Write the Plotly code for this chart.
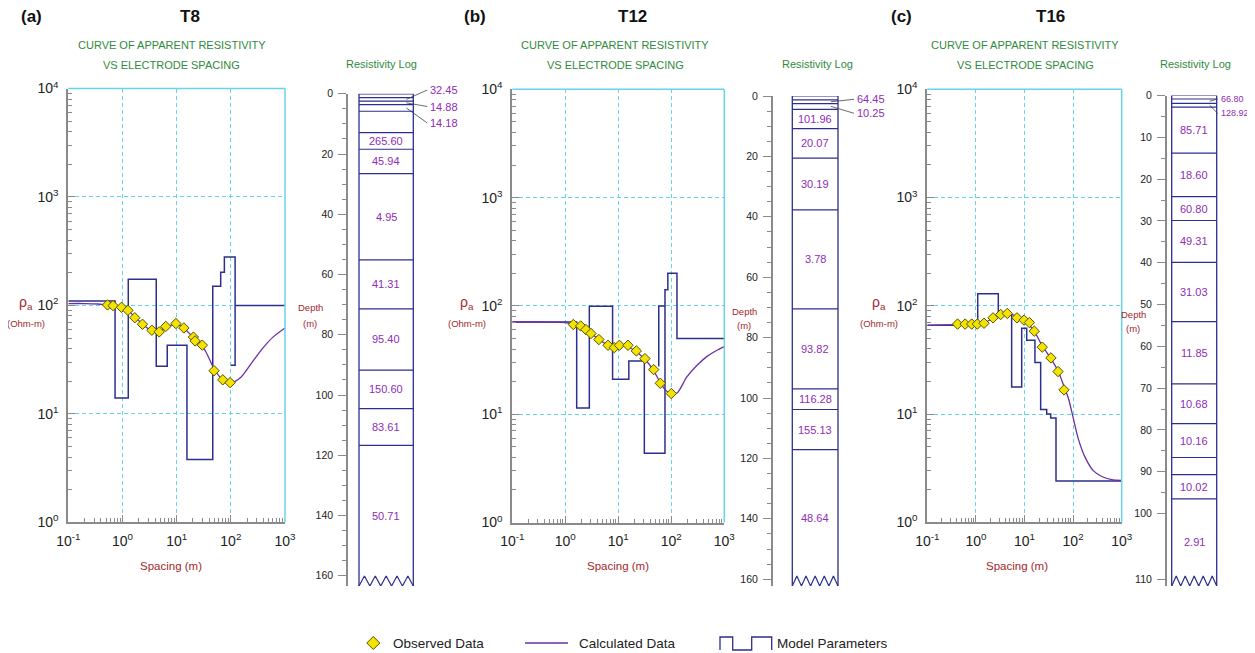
import plotly.graph_objects as go

W, H = 1255, 653
OFF = 8                      # default page margin of the browser body
FW, FH = W - OFF, H - OFF    # figure size
FONT = "Arial, 'Liberation Sans', Helvetica, sans-serif"
GRAY = "#8a8a8a"
CYAN = "#66d4ea"
NAVY = "#2c2f8c"
PURPLE_LINE = "#6b2fa3"
PURPLE_TXT = "#8e2cb6"
GREEN = "#2f8a3c"
DARKRED = "#a2282c"
YELLOW = "#f2e400"

# ---------------- data ----------------
spacing_ticks = [0.1, 1, 10, 100, 1000]
spacing_tick_text = ["10<sup>-1</sup>", "10<sup>0</sup>", "10<sup>1</sup>", "10<sup>2</sup>", "10<sup>3</sup>"]
rho_ticks = [1, 10, 100, 1000, 10000]
rho_tick_text = ["10<sup>0</sup>", "10<sup>1</sup>", "10<sup>2</sup>", "10<sup>3</sup>", "10<sup>4</sup>"]

# T8
t8_obs_x = [0.53, 0.67, 0.96, 1.26, 1.69, 2.34, 3.49, 4.76, 6.3, 9.7, 13.6, 20.4, 21.9, 29.8, 49, 71, 97]
t8_obs_y = [101, 99.5, 96, 90, 77, 67, 59, 57, 64, 68, 62, 51, 47, 43, 25, 20.6, 19.4]
t8_calc_x = [0.1, 0.2, 0.35, 0.5, 0.7, 1.0, 1.3, 1.7, 2.3, 3.0, 4.0, 5.0, 6.5, 9.0, 12, 15, 20, 27, 35, 50, 70, 100, 150, 260, 400, 600, 1000]
t8_calc_y = [104, 104, 103, 101, 99, 95, 89, 78, 68, 61, 58, 58, 63, 66.5, 65, 59, 51, 45, 37, 25.5, 20.8, 19.3, 21.5, 31, 41, 51, 62]
t8_model_x = [0.1, 0.73, 0.73, 1.28, 1.28, 4.2, 4.2, 6.7, 6.7, 15.5, 15.5, 46.4, 46.4, 65, 65, 76, 76, 120, 120, 100, None, 120, 1000]
t8_model_y = [110, 110, 14, 14, 174, 174, 27.5, 27.5, 43, 43, 3.8, 3.8, 150, 150, 202, 202, 280, 280, 28, 28, None, 100, 100]
t8_layer_top = [0, 1.3, 2.4, 3.6, 5.8, 12.9, 18.4, 26.5, 55.1, 71.4, 91.7, 104.5, 116.7]
t8_layer_res = ["", "32.45", "14.88", "14.18", "", "265.60", "45.94", "4.95", "41.31", "95.40", "150.60", "83.61", "50.71"]
t8_layer_ext = [0, 1, 1, 1, 0, 0, 0, 0, 0, 0, 0, 0, 0]

# T12
t12_obs_x = [1.42, 1.95, 2.45, 3.05, 4.3, 6.4, 8.4, 10.5, 15.2, 21.9, 31.8, 46.5, 62, 100]
t12_obs_y = [67.3, 65.3, 60.4, 55.6, 48.9, 43.3, 41.2, 43.3, 43.3, 38.4, 32.6, 25.8, 19.3, 15.5]
t12_calc_x = [0.1, 0.3, 0.7, 1.0, 1.4, 2.0, 3.0, 4.3, 6.4, 8.4, 10.5, 14, 20, 30, 45, 62, 80, 100, 130, 195, 300, 466, 700, 1000]
t12_calc_y = [71, 71, 70.5, 70, 67.5, 64, 56, 49, 43.5, 42, 42.5, 42.5, 39, 33, 26, 19.5, 16.5, 15.3, 15.8, 22, 28, 34, 38.5, 42]
t12_model_x = [0.1, 1.64, 1.64, 2.84, 2.84, 7.8, 7.8, 15.8, 15.8, 31, 31, 76, 76, 86, 86, 128, 128, 1000, None, 58, 58, 76]
t12_model_y = [71, 71, 11.4, 11.4, 99, 99, 21, 21, 31, 31, 4.36, 4.36, 141, 141, 200, 200, 50, 50, None, 27.6, 100, 100]
t12_layer_top = [0, 1.3, 2.5, 4.4, 10.8, 20.6, 37.7, 70.5, 97, 103.8, 117.1]
t12_layer_res = ["", "64.45", "10.25", "101.96", "20.07", "30.19", "3.78", "93.82", "116.28", "155.13", "48.64"]
t12_layer_ext = [0, 1, 1, 0, 0, 0, 0, 0, 0, 0, 0]

# T16
t16_obs_x = [0.42, 0.60, 0.82, 1.07, 1.47, 2.25, 3.23, 4.43, 7.0, 9.8, 12.6, 15.9, 23.2, 35, 49, 65]
t16_obs_y = [67.8, 67.8, 67.8, 67.8, 69, 77.4, 83, 85, 77.4, 73.7, 70, 58.3, 41.5, 33, 24.7, 16.7]
t16_calc_x = [0.1, 0.4, 1.0, 1.5, 2.2, 3.2, 4.5, 6, 8, 10, 13, 16, 23, 35, 50, 65, 80, 100, 128, 176, 260, 390, 620, 1000]
t16_calc_y = [66, 67, 68, 70, 76, 82, 84.5, 82, 77, 72, 65, 58, 43, 32.5, 24.5, 18, 14, 9.3, 5.9, 4.0, 3.0, 2.65, 2.48, 2.44]
t16_model_x = [0.1, 1.09, 1.09, 2.89, 2.89, 5.44, 5.44, 8.75, 8.75, 11.1, 11.1, 16.4, 16.4, 21.5, 21.5, 28.6, 28.6, 34.6, 34.6, 44.5, 44.5, 1000]
t16_model_y = [66, 66, 129, 129, 82, 82, 17.8, 17.8, 62, 62, 48, 48, 30, 30, 11, 11, 10, 10, 9.2, 9.2, 2.41, 2.41]
t16_layer_top = [0, 0.84, 1.9, 2.8, 13.8, 24.2, 29.9, 39.9, 54.1, 69.0, 78.5, 86.6, 90.7, 96.5]
t16_layer_res = ["", "66.80", "128.92", "85.71", "18.60", "60.80", "49.31", "31.03", "11.85", "10.68", "10.16", "", "10.02", "2.91"]
t16_layer_ext = [0, 1, 1, 0, 0, 0, 0, 0, 0, 0, 0, 0, 0, 0]

soundings = [
    dict(tag="(a)", name="T8", ox=t8_obs_x, oy=t8_obs_y, cx=t8_calc_x, cy=t8_calc_y,
         mx=t8_model_x, my=t8_model_y, top=t8_layer_top, res=t8_layer_res, ext=t8_layer_ext),
    dict(tag="(b)", name="T12", ox=t12_obs_x, oy=t12_obs_y, cx=t12_calc_x, cy=t12_calc_y,
         mx=t12_model_x, my=t12_model_y, top=t12_layer_top, res=t12_layer_res, ext=t12_layer_ext),
    dict(tag="(c)", name="T16", ox=t16_obs_x, oy=t16_obs_y, cx=t16_calc_x, cy=t16_calc_y,
         mx=t16_model_x, my=t16_model_y, top=t16_layer_top, res=t16_layer_res, ext=t16_layer_ext),
]

# ---------------- layout (pixel positions in the window) ----------------
cfgs = [
    dict(cxr=(68.3, 285), cyr=(88.5, 522.3), lx=348, box=(359, 413.3), y0=93.8, ppm=3.0125,
         dstep=20, dlast=160, end_label=None, ext_x=15, ext_start=-3.8, ext_gap=16.5, ext_size=11,
         tag_x=31, title_x=190, green_x=171.7, rlog_x=381.7, rho_x=26, depth_x=310, depth_y=(308, 323),
         spacing_x=170.7),
    dict(cxr=(512.3, 724.3), cyr=(89.3, 522.5), lx=772.7, box=(792.3, 838), y0=96, ppm=3.02,
         dstep=20, dlast=160, end_label=None, ext_x=17, ext_start=3.3, ext_gap=14, ext_size=11,
         tag_x=475, title_x=632, green_x=615, rlog_x=817, rho_x=467, depth_x=744, depth_y=(311, 325),
         spacing_x=618),
    dict(cxr=(927.3, 1121.7), cyr=(89.3, 522.3), lx=1166.7, box=(1171.7, 1216.7), y0=95.5, ppm=4.18,
         dstep=10, dlast=100, end_label=("110", 579.3), ext_x=2, ext_start=3.5, ext_gap=14.3, ext_size=9,
         tag_x=901, title_x=1050, green_x=1025, rlog_x=1195, rho_x=879, depth_x=1133, depth_y=(314, 329),
         spacing_x=1016.7),
]
BOTTOM = 586
SPAN = 80


def PX(x):
    return (x - OFF) / FW


def PY(y):
    return 1 - (y - OFF) / FH


fig = go.Figure()
layout = {}
shapes = []
anns = []


def an(n):
    return "" if n == 1 else str(n)


def ann(text, x, y, size, color, bold=False, xanchor="center"):
    anns.append(dict(text=f"<b>{text}</b>" if bold else text, x=PX(x), y=PY(y),
                     xref="paper", yref="paper", showarrow=False, xanchor=xanchor, yanchor="middle",
                     font=dict(family=FONT, size=size, color=color)))


minor_x = [m * 10 ** e for e in range(-1, 3) for m in range(2, 10)]
minor_y = [m * 10 ** e for e in range(0, 4) for m in range(2, 10)]

for i, (S, L) in enumerate(zip(soundings, cfgs)):
    m, g = 2 * i + 1, 2 * i + 2
    xm, ym, xg, yg = "x" + an(m), "y" + an(m), "x" + an(g), "y" + an(g)

    # ---- main apparent-resistivity chart ----
    layout["xaxis" + an(m)] = dict(
        type="log", range=[-1, 3], domain=[PX(L["cxr"][0]), PX(L["cxr"][1])], anchor=ym,
        automargin=False,
        tickmode="array", tickvals=spacing_ticks, ticktext=spacing_tick_text,
        ticks="inside", ticklen=7, tickcolor=GRAY, tickwidth=1, ticklabelstandoff=5,
        showline=True, linecolor=GRAY, linewidth=2, zeroline=False,
        showgrid=True, gridcolor=CYAN, griddash="4px,3px", gridwidth=1,
        minor=dict(tickmode="array", tickvals=minor_x, ticks="inside", ticklen=4,
                   tickcolor=GRAY, showgrid=False),
        tickfont=dict(family=FONT, size=14, color="#222"), fixedrange=True)
    layout["yaxis" + an(m)] = dict(
        type="log", range=[0, 4], domain=[PY(L["cyr"][1]), PY(L["cyr"][0])], anchor=xm,
        automargin=False,
        tickmode="array", tickvals=rho_ticks, ticktext=rho_tick_text,
        ticks="inside", ticklen=7, tickcolor=GRAY, tickwidth=1, ticklabelstandoff=5,
        showline=True, linecolor=GRAY, linewidth=2, zeroline=False,
        showgrid=True, gridcolor=CYAN, griddash="4px,3px", gridwidth=1,
        minor=dict(tickmode="array", tickvals=minor_y, ticks="inside", ticklen=4,
                   tickcolor=GRAY, showgrid=False),
        tickfont=dict(family=FONT, size=14, color="#222"), fixedrange=True)
    shapes.append(dict(type="line", xref=xm + " domain", yref=ym + " domain", x0=0, x1=1, y0=1, y1=1,
                       line=dict(color=CYAN, width=1.5)))
    shapes.append(dict(type="line", xref=xm + " domain", yref=ym + " domain", x0=1, x1=1, y0=0, y1=1,
                       line=dict(color=CYAN, width=1.5)))

    fig.add_trace(go.Scatter(x=S["mx"], y=S["my"], mode="lines", xaxis=xm, yaxis=ym,
                             line=dict(color=NAVY, width=1.5), connectgaps=False, hoverinfo="skip"))
    fig.add_trace(go.Scatter(x=S["cx"], y=S["cy"], mode="lines", xaxis=xm, yaxis=ym,
                             line=dict(color=PURPLE_LINE, width=1.3, shape="spline", smoothing=0.8),
                             hoverinfo="skip"))
    fig.add_trace(go.Scatter(x=S["ox"], y=S["oy"], mode="markers", xaxis=xm, yaxis=ym,
                             marker=dict(symbol="diamond", size=8, color=YELLOW,
                                         line=dict(color="#5a5200", width=1)), hoverinfo="skip"))

    # ---- resistivity log column ----
    dmax = (BOTTOM - L["y0"]) / L["ppm"]
    ticks = list(range(0, L["dlast"] + 1, L["dstep"]))
    ticktext = [str(t) for t in ticks]
    if L["end_label"]:
        ticks.append((L["end_label"][1] - L["y0"]) / L["ppm"])
        ticktext.append(L["end_label"][0])
    minor_d = [d for d in range(5, L["dlast"], 5) if d % L["dstep"]]
    layout["xaxis" + an(g)] = dict(range=[0, SPAN], domain=[PX(L["lx"]), PX(L["lx"] + SPAN)],
                                   anchor=yg, visible=False, fixedrange=True, automargin=False)
    layout["yaxis" + an(g)] = dict(
        range=[dmax, 0], domain=[PY(BOTTOM), PY(L["y0"])], anchor=xg, automargin=False,
        tickmode="array", tickvals=ticks, ticktext=ticktext,
        ticks="outside", ticklen=8, tickcolor=GRAY, ticklabelstandoff=3,
        showline=True, linecolor=GRAY, linewidth=1.5, showgrid=False, zeroline=False,
        minor=dict(tickmode="array", tickvals=minor_d, ticks="outside", ticklen=4, tickcolor=GRAY),
        tickfont=dict(family=FONT, size=10.5, color="#222"), fixedrange=True)

    bl, br = L["box"][0] - L["lx"], L["box"][1] - L["lx"]
    for xx in (bl, br):
        shapes.append(dict(type="line", xref=xg, yref=yg, x0=xx, x1=xx, y0=0, y1=dmax,
                           line=dict(color=NAVY, width=1.3)))
    tops = S["top"]
    bots = tops[1:] + [dmax]
    k = 0
    for t, b, r, e in zip(tops, bots, S["res"], S["ext"]):
        shapes.append(dict(type="line", xref=xg, yref=yg, x0=bl, x1=br, y0=t, y1=t,
                           line=dict(color=NAVY, width=1.2)))
        if not r:
            continue
        mid = (t + b) / 2
        if e:
            # external label with leader line, placed in paper coordinates
            label_py = L["y0"] + L["ext_start"] + k * L["ext_gap"]
            mid_py = L["y0"] + mid * L["ppm"]
            shapes.append(dict(type="line", xref="paper", yref="paper",
                               x0=PX(L["box"][1] - 7), x1=PX(L["box"][1] + L["ext_x"] - 1),
                               y0=PY(mid_py), y1=PY(label_py),
                               line=dict(color="#444", width=0.8)))
            ann(r, L["box"][1] + L["ext_x"], label_py, L["ext_size"], PURPLE_TXT, xanchor="left")
            k += 1
        else:
            anns.append(dict(text=r, x=(bl + br) / 2, y=mid, xref=xg, yref=yg, showarrow=False,
                             xanchor="center", yanchor="middle",
                             font=dict(family=FONT, size=11, color=PURPLE_TXT)))
    # zig-zag open bottom
    zz_x = [bl + j * (br - bl) / 10 for j in range(11)]
    zz_y = [dmax if j % 2 == 0 else dmax - 10 / L["ppm"] for j in range(11)]
    fig.add_trace(go.Scatter(x=zz_x, y=zz_y, mode="lines", xaxis=xg, yaxis=yg,
                             line=dict(color=NAVY, width=1.2), hoverinfo="skip", cliponaxis=False))

    # ---- texts ----
    ann(S["tag"], L["tag_x"], 16, 17, "#111", bold=True)
    ann(S["name"], L["title_x"], 16, 17, "#111", bold=True)
    ann("CURVE OF APPARENT RESISTIVITY", L["green_x"], 45, 11, GREEN)
    ann("VS ELECTRODE SPACING", L["green_x"], 65, 11, GREEN)
    ann("Resistivity Log", L["rlog_x"], 64, 11, GREEN)
    ann("ρ<sub>a</sub>", L["rho_x"], 303, 14, DARKRED)
    ann("(Ohm-m)", L["rho_x"], 324, 9.5, DARKRED)
    ann("Depth", L["depth_x"], L["depth_y"][0], 9.5, DARKRED)
    ann("(m)", L["depth_x"], L["depth_y"][1], 9.5, DARKRED)
    ann("Spacing (m)", L["spacing_x"], 566, 11.5, DARKRED)

# ---------------- legend (drawn) ----------------
LY = 643
dx, dy = 6.5 / FW, 6.5 / FH
cxp, cyp = PX(373.3), PY(LY)
shapes.append(dict(type="path", xref="paper", yref="paper",
                   path=f"M {cxp},{cyp + dy} L {cxp + dx},{cyp} L {cxp},{cyp - dy} L {cxp - dx},{cyp} Z",
                   fillcolor=YELLOW, line=dict(color="#5a5200", width=1)))
ann("Observed Data", 390.7, LY, 13.5, "#222", xanchor="left")
shapes.append(dict(type="line", xref="paper", yref="paper", x0=PX(525), x1=PX(568),
                   y0=PY(LY), y1=PY(LY), line=dict(color=PURPLE_LINE, width=1.5)))
ann("Calculated Data", 576.7, LY, 13.5, "#222", xanchor="left")
icon = [(720, 650), (720, 637), (732.7, 637), (732.7, 650), (751.7, 650), (751.7, 637), (771.7, 637), (771.7, 650)]
path = "M " + " L ".join(f"{PX(px)},{PY(py)}" for px, py in icon)
shapes.append(dict(type="path", xref="paper", yref="paper", path=path, line=dict(color=NAVY, width=1.3)))
ann("Model Parameters", 775, LY, 13.5, "#222", xanchor="left")

fig.update_layout(
    width=FW, height=FH, margin=dict(l=0, r=0, t=0, b=0, autoexpand=False),
    paper_bgcolor="white", plot_bgcolor="white",
    showlegend=False, hovermode=False,
    shapes=shapes, annotations=anns,
    font=dict(family=FONT),
    **layout,
)

fig.write_html("out.html")
